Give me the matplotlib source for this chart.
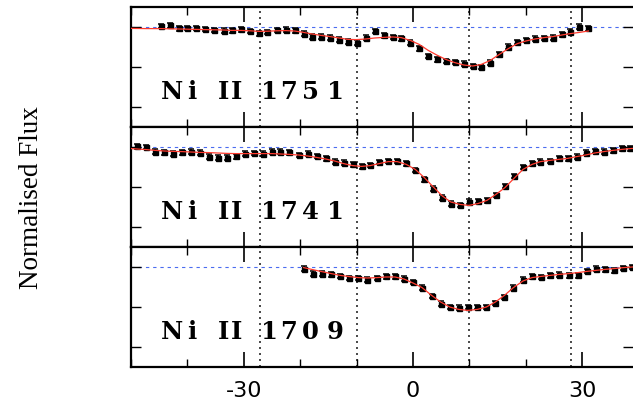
import numpy as np
import matplotlib
matplotlib.use("Agg")
import matplotlib.pyplot as plt
from matplotlib.ticker import MultipleLocator, FixedLocator
from matplotlib.transforms import offset_copy

plt.rcParams["axes.unicode_minus"] = False

# velocity pixels (km/s) and normalised flux for each Ni II line
v1751 = [-44.7, -43.1, -41.5, -40.0, -38.4, -36.8, -35.2, -33.6, -32.1, -30.5,
         -28.9, -27.3, -25.8, -24.2, -22.6, -21.0, -19.4, -17.9, -16.3, -14.7,
         -13.1, -11.5, -10.0, -8.4, -6.8, -5.2, -3.6, -2.1, -0.5, 1.1,
         2.7, 4.2, 5.8, 7.4, 9.0, 10.6, 12.1, 13.7, 15.3, 16.9,
         18.5, 20.0, 21.6, 23.2, 24.8, 26.4, 27.9, 29.5, 31.1]
f1751 = [1.005, 1.008, 0.993, 0.995, 0.995, 0.990, 0.985, 0.982, 0.983, 0.988,
         0.980, 0.968, 0.975, 0.985, 0.987, 0.983, 0.967, 0.952, 0.952, 0.947,
         0.937, 0.927, 0.922, 0.947, 0.980, 0.958, 0.950, 0.943, 0.922, 0.893,
         0.855, 0.838, 0.830, 0.825, 0.817, 0.805, 0.800, 0.822, 0.863, 0.902,
         0.925, 0.935, 0.942, 0.945, 0.947, 0.963, 0.977, 1.002, 0.993]
m1751 = [0.993, 0.992,
         0.992, 0.991, 0.990, 0.989, 0.988, 0.987, 0.986, 0.985, 0.983, 0.983,
         0.981, 0.978, 0.979, 0.981, 0.982, 0.980, 0.973, 0.965, 0.958, 0.952,
         0.945, 0.938, 0.937, 0.940, 0.945, 0.948, 0.950, 0.947, 0.933, 0.913,
         0.883, 0.860, 0.838, 0.822, 0.810, 0.805, 0.813, 0.833, 0.863, 0.892,
         0.917, 0.930, 0.940, 0.947, 0.952, 0.960, 0.967, 0.973, 0.980]

v1741 = [-48.9, -47.3, -45.7, -44.1, -42.5, -41.0, -39.4, -37.8, -36.2, -34.6,
         -33.0, -31.4, -29.8, -28.2, -26.6, -25.0, -23.5, -21.9, -20.3, -18.7,
         -17.1, -15.5, -13.9, -12.3, -10.7, -9.1, -7.6, -6.0, -4.4, -2.8,
         -1.2, 0.4, 2.0, 3.6, 5.2, 6.7, 8.3, 9.9, 11.5, 13.1,
         14.7, 16.3, 17.9, 19.5, 21.1, 22.6, 24.2, 25.8, 27.4, 29.0,
         30.6, 32.2, 33.8, 35.4, 37.0, 38.5]
f1741 = [1.003, 1.000, 0.977, 0.973, 0.967, 0.973, 0.977, 0.972, 0.952, 0.947,
         0.947, 0.953, 0.967, 0.970, 0.967, 0.977, 0.977, 0.973, 0.960, 0.967,
         0.955, 0.943, 0.927, 0.922, 0.913, 0.903, 0.910, 0.925, 0.930, 0.930,
         0.918, 0.885, 0.838, 0.792, 0.747, 0.717, 0.710, 0.727, 0.730, 0.733,
         0.760, 0.805, 0.855, 0.900, 0.918, 0.927, 0.930, 0.943, 0.943, 0.952,
         0.972, 0.980, 0.977, 0.983, 0.993, 0.993]
m1741 = [0.992,
         0.990, 0.987, 0.983, 0.980, 0.978, 0.977, 0.975, 0.973, 0.972, 0.970,
         0.968, 0.967, 0.967, 0.967, 0.967, 0.967, 0.965, 0.963, 0.960, 0.955,
         0.948, 0.940, 0.930, 0.917, 0.907, 0.903, 0.907, 0.917, 0.927, 0.927,
         0.913, 0.888, 0.847, 0.800, 0.755, 0.725, 0.713, 0.708, 0.717, 0.733,
         0.763, 0.797, 0.843, 0.888, 0.913, 0.927, 0.933, 0.938, 0.943, 0.952,
         0.960, 0.970, 0.977, 0.983, 0.988, 0.992,
         0.993]

v1709 = [-19.4, -17.8, -16.2, -14.5, -12.9, -11.3, -9.7, -8.1, -6.4, -4.8,
         -3.2, -1.6, 0.0, 1.6, 3.3, 4.9, 6.5, 8.1, 9.7, 11.4,
         13.0, 14.6, 16.2, 17.8, 19.5, 21.1, 22.7, 24.3, 25.9, 27.6,
         29.2, 30.8, 32.4, 34.0, 35.6, 37.3, 38.9]
f1709 = [0.992, 0.967, 0.967, 0.963, 0.955, 0.945, 0.945, 0.937, 0.945, 0.953,
         0.953, 0.942, 0.925, 0.897, 0.855, 0.817, 0.800, 0.797, 0.800, 0.800,
         0.800, 0.820, 0.850, 0.897, 0.937, 0.953, 0.950, 0.958, 0.962, 0.958,
         0.958, 0.980, 0.992, 0.988, 0.983, 0.995, 1.000]
m1709 = [0.997, 0.987, 0.977, 0.967, 0.958, 0.952, 0.947, 0.945, 0.947, 0.950,
         0.950, 0.940, 0.920, 0.897, 0.858, 0.825, 0.800, 0.788, 0.783, 0.788,
         0.800, 0.825, 0.858, 0.897, 0.930, 0.947, 0.953, 0.958, 0.963, 0.967,
         0.972, 0.978, 0.983, 0.988, 0.992, 0.997, 1.000]

flux_err = 0.012
components = [-27.2, -10.0, 10.0, 28.0]

panels = [
    ("1751", v1751, f1751, [-50.0, -47.3] + v1751, m1751),
    ("1741", v1741, f1741, [-50.0] + v1741 + [39.0], m1741),
    ("1709", v1709, f1709, v1709, m1709),
]

fig = plt.figure(figsize=(6.33, 4.07), dpi=100)
left, width = 131 / 633, 502 / 633
height = 120 / 407
tops = [7, 127, 247]


def spaced_label(ax, x0, y0, text, offsets):
    # draws each glyph at its own horizontal offset (pixels) from x0
    for ch, dx in zip(text, offsets):
        if ch == " ":
            continue
        tr = offset_copy(ax.transData, fig=fig, x=dx, y=0, units="dots")
        ax.text(x0, y0, ch, transform=tr, ha="center", va="baseline",
                fontsize=17.5, fontweight="bold", family="DejaVu Serif")


char_dx = [0, 19.5, 0, 51, 64, 0, 97.5, 116.5, 138.5, 163]

for (wl, v, f, mv, m), top in zip(panels, tops):
    ax = fig.add_axes([left, 1 - (top + 120) / 407, width, height])
    ax.set_xlim(-50, 39)
    ax.set_ylim(0.5, 1.1)

    ax.axhline(1.0, color="#4a6cf0", lw=0.8, ls=(0, (3, 3.5)), zorder=1)
    for c in components:
        ax.axvline(c, color="#2a2a2a", lw=1.2, ls=(0, (1.2, 2.4)), zorder=1)

    ax.errorbar(v, f, yerr=flux_err, fmt="s", color="black", ms=3.6,
                elinewidth=1.1, capsize=2.0, capthick=1.1, zorder=3)
    ax.plot(mv, m, color="#ff3b2f", lw=0.9, zorder=4)

    spaced_label(ax, -42.7, 0.64, "Ni II " + wl, char_dx)

    ax.xaxis.set_major_locator(FixedLocator([-30, 0, 30]))
    ax.xaxis.set_minor_locator(MultipleLocator(10))
    ax.yaxis.set_major_locator(FixedLocator([0.6, 0.8, 1.0]))
    ax.tick_params(axis="x", which="major", direction="in", top=True,
                   length=10.5, width=1.2, pad=10, labelsize=16)
    ax.tick_params(axis="x", which="minor", direction="in", top=True,
                   length=5.5, width=1.0)
    ax.tick_params(axis="y", which="major", direction="in", right=True,
                   length=7, width=1.0, labelleft=False)
    for side in ("left", "top", "bottom"):
        ax.spines[side].set_linewidth(1.6)
    ax.spines["right"].set_visible(False)

    if top != tops[-1]:
        ax.tick_params(axis="x", labelbottom=False)
    else:
        for lab in ax.get_xticklabels():
            lab.set_family("DejaVu Sans")

fig.text(0.05, 0.515, "Normalised Flux", rotation=90, ha="center", va="center",
         fontsize=19.5, family="Liberation Serif")

fig.savefig("out.png", dpi=100)
